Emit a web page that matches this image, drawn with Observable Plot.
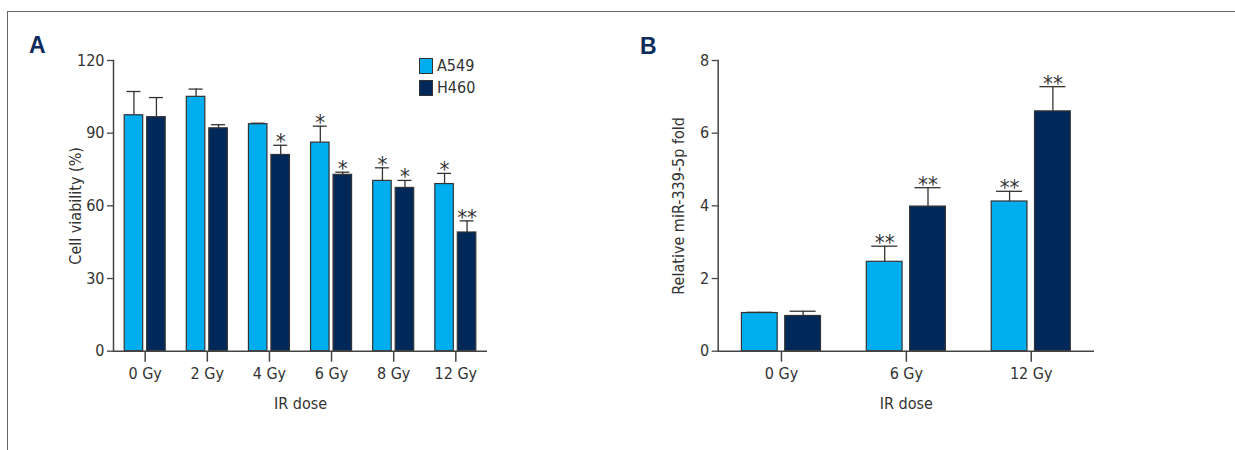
<!DOCTYPE html>
<html>
<head>
<meta charset="utf-8">
<script src="https://cdn.jsdelivr.net/npm/d3@7"></script>
<script src="https://cdn.jsdelivr.net/npm/@observablehq/plot@0.6"></script>
<style>
  html, body { margin: 0; padding: 0; background: #fff; }
  #page { position: relative; width: 1235px; height: 450px; overflow: hidden; background: #fff;
          font-family: "Liberation Sans Narrow", "DejaVu Sans Condensed", "Liberation Sans", sans-serif; }
  #frameLines { position: absolute; left: 7px; top: 11px; right: -2px; bottom: -2px;
                border-top: 1px solid #666; border-left: 1px solid #666; z-index: 5; pointer-events: none; }
  .panel { position: absolute; top: 0; }
  .plabel { position: absolute; font-family: "Liberation Sans", "DejaVu Sans", sans-serif; font-weight: bold;
            font-size: 23px; color: #0b2c5b; line-height: 1; }
  .legend { position: absolute; left: 419px; top: 58px; font-size: 16px; color: #333; }
  .legend .item { position: relative; height: 22px; }
  .legend .sw { position: absolute; left: 0; top: 0; width: 12px; height: 14px; border: 1px solid #333; }
  .legend .lt { position: absolute; left: 18px; top: 0; line-height: 16px; }
</style>
</head>
<body>
<div id="page">
  <div id="frameLines"></div>
  <div class="plabel" style="left:29px; top:34px;">A</div>
  <div class="plabel" style="left:640px; top:35px;">B</div>
  <div id="panelA" class="panel" style="left:0px;"></div>
  <div id="panelB" class="panel" style="left:620px;"></div>
  <div id="legend" class="legend"></div>
</div>
<script>
// ---- data ----
const seriesNames = ["A549", "H460"];
const seriesColors = ["#00aeef", "#00295a"];

// Panel A: cell viability (%)
const dosesA = ["0 Gy", "2 Gy", "4 Gy", "6 Gy", "8 Gy", "12 Gy"];
const a549A = [97.4, 105.0, 93.7, 86.1, 70.3, 69.0];
const a549ErrA = [9.8, 3.2, 0.4, 6.8, 5.4, 4.4];
const h460A = [96.6, 92.0, 81.0, 72.8, 67.4, 49.0];
const h460ErrA = [8.1, 1.5, 4.0, 1.1, 3.1, 4.8];
const a549SigA = ["", "", "", "*", "*", "*"];
const h460SigA = ["", "", "*", "*", "*", "**"];
const yTicksA = [0, 30, 60, 90, 120];

// Panel B: relative miR-339-5p fold
const dosesB = ["0 Gy", "6 Gy", "12 Gy"];
const a549B = [1.05, 2.46, 4.12];
const a549ErrB = [0.02, 0.43, 0.28];
const h460B = [0.97, 3.98, 6.60];
const h460ErrB = [0.13, 0.52, 0.68];
const a549SigB = ["", "**", "**"];
const h460SigB = ["", "**", "**"];
const yTicksB = [0, 2, 4, 6, 8];

const FONT = '"Liberation Sans Narrow", "DejaVu Sans Condensed", "Liberation Sans", sans-serif';
const INK = "#333";
const AXIS = "#444";

function rows(doses, a, aErr, h, hErr, aSig, hSig) {
  return doses.map((d, i) => ({
    dose: d, a: a[i], aHi: a[i] + aErr[i], h: h[i], hHi: h[i] + hErr[i], aSig: aSig[i], hSig: hSig[i]
  }));
}

function panel(cfg) {
  const {data, doses, width, height, ml, mr, mt, mb, pi, po, yDomain, yTicks, yLabel,
         bw, gap, cap, labelDx} = cfg;
  const band = 2 * bw + gap;
  const half = bw + gap;          // inset to keep one half of the band
  const cA = -(band / 2 - bw / 2); // offset of A549 bar center from band center
  const cH = +(band / 2 - bw / 2);
  const capInA = bw / 2 - cap / 2;
  return Plot.plot({
    width, height,
    marginLeft: ml, marginRight: mr, marginTop: mt, marginBottom: mb,
    style: {fontFamily: FONT, fontSize: "16px", color: INK, background: "transparent", overflow: "visible"},
    x: {domain: doses, paddingInner: pi, paddingOuter: po, round: false, label: null},
    y: {domain: yDomain, label: null},
    marks: [
      // bars
      Plot.barY(data, {x: "dose", y: "a", fill: seriesColors[0], stroke: INK, strokeWidth: 1.2, insetRight: half}),
      Plot.barY(data, {x: "dose", y: "h", fill: seriesColors[1], stroke: INK, strokeWidth: 1.2, insetLeft: half}),
      // error bars
      Plot.ruleX(data, {x: "dose", y1: "a", y2: "aHi", dx: cA, stroke: INK, strokeWidth: 1.3}),
      Plot.ruleX(data, {x: "dose", y1: "h", y2: "hHi", dx: cH, stroke: INK, strokeWidth: 1.3}),
      Plot.tickY(data, {x: "dose", y: "aHi", insetLeft: capInA, insetRight: band - capInA - cap, stroke: INK, strokeWidth: 1.3}),
      Plot.tickY(data, {x: "dose", y: "hHi", insetLeft: half + capInA, insetRight: capInA, stroke: INK, strokeWidth: 1.3}),
      // significance
      Plot.text(data, {x: "dose", y: "aHi", text: "aSig", dx: cA, dy: -3, fontSize: 22, fill: INK, lineAnchor: "middle"}),
      Plot.text(data, {x: "dose", y: "hHi", text: "hSig", dx: cH, dy: -3, fontSize: 22, fill: INK, lineAnchor: "middle"}),
      // axes
      Plot.axisY({ticks: yTicks, tickSize: 6, tickPadding: 3, stroke: AXIS, strokeWidth: 1.3, label: null, fontSize: 16}),
      Plot.axisX({tickSize: 11, tickPadding: 5, stroke: AXIS, strokeWidth: 1.5, label: null, fontSize: 16}),
      Plot.frame({anchor: "left", stroke: AXIS, strokeWidth: 1.5}),
      Plot.ruleY([0], {stroke: AXIS, strokeWidth: 1.5}),
      // axis titles
      Plot.text([yLabel], {frameAnchor: "left", textAnchor: "middle", dx: labelDx, rotate: -90, fontSize: 16, fill: INK}),
      Plot.text(["IR dose"], {frameAnchor: "bottom", dy: 58, fontSize: 16, fill: INK})
    ]
  });
}

const chartA = panel({
  data: rows(dosesA, a549A, a549ErrA, h460A, h460ErrA, a549SigA, h460SigA),
  doses: dosesA, width: 620, height: 450, ml: 113, mr: 133, mt: 60, mb: 99.3,
  pi: 0.34, po: 0.18, yDomain: [0, 120], yTicks: yTicksA, yLabel: "Cell viability (%)",
  bw: 18.5, gap: 4, cap: 14, labelDx: -38
});
document.getElementById("panelA").appendChild(chartA);

const chartB = panel({
  data: rows(dosesB, a549B, a549ErrB, h460B, h460ErrB, a549SigB, h460SigB),
  doses: dosesB, width: 615, height: 450, ml: 97.7, mr: 141, mt: 60, mb: 99.3,
  pi: 0.367, po: 0.19, yDomain: [0, 8], yTicks: yTicksB, yLabel: "Relative miR-339-5p fold",
  bw: 35.7, gap: 7.6, cap: 26, labelDx: -39.4
});
document.getElementById("panelB").appendChild(chartB);

// legend
const leg = document.getElementById("legend");
seriesNames.forEach((name, i) => {
  const item = document.createElement("div");
  item.className = "item";
  const sw = document.createElement("div");
  sw.className = "sw";
  sw.style.background = seriesColors[i];
  const lt = document.createElement("div");
  lt.className = "lt";
  lt.textContent = name;
  item.appendChild(sw);
  item.appendChild(lt);
  leg.appendChild(item);
});
</script>
</body>
</html>
